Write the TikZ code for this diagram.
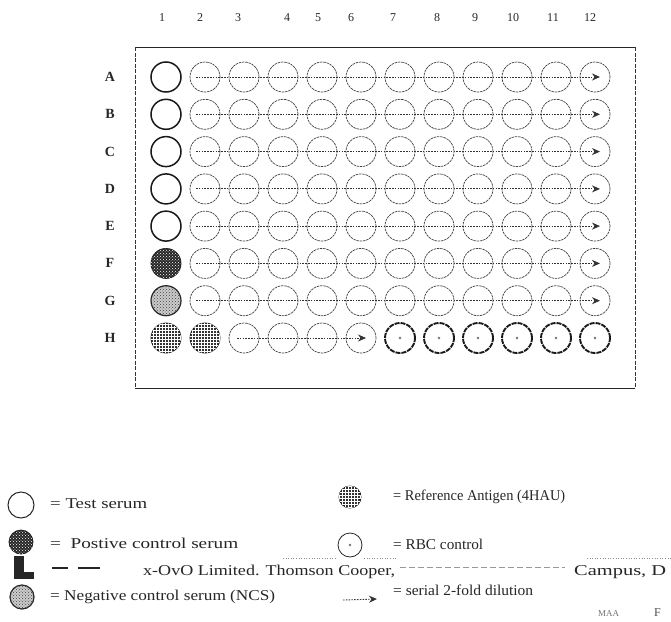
\documentclass[tikz,border=0pt]{standalone}
\usepackage{graphicx}
\usepackage{fontspec}
\setmainfont{Liberation Serif}
\usetikzlibrary{arrows.meta,patterns}
\newcommand{\fitw}[2]{\resizebox{#1}{\height}{#2}}
\begin{document}
\begin{tikzpicture}[x=1pt,y=-1pt,
  wl/.style={circle, minimum size=30pt, inner sep=0pt},
  thinwell/.style={wl, draw=black!75, line width=0.7pt, dash pattern=on 2.5pt off 0.8pt},
  testwell/.style={wl, draw=black!90, line width=1.5pt},
  poswell/.style={wl, draw=black!90, fill=black!85, line width=0.8pt, postaction={pattern=crosshatch dots, pattern color=white}},
  refwell/.style={wl, draw=black!90, fill=black!80, line width=0.8pt, postaction={pattern=grid, pattern color=white}},
  negwell/.style={wl, draw=black!85, line width=1.2pt, fill=black!20, postaction={pattern=crosshatch dots, pattern color=black!75}},
  rbcwell/.style={wl, draw=black!90, line width=1.9pt, dash pattern=on 5pt off 1pt},
  dil/.style={black!80, line width=0.9pt, dash pattern=on 1.5pt off 1.3pt, -{Stealth[length=8pt,width=7pt]}},
  lbl/.style={font=\fontsize{15}{17}\selectfont, text=black!85, inner sep=0pt, anchor=west},
  collbl/.style={font=\fontsize{12}{13}\selectfont, text=black!85, inner sep=0pt},
  rowlbl/.style={font=\fontsize{14}{15}\selectfont\bfseries, text=black!85, inner sep=0pt},
  artdot/.style={black!45, line width=0.6pt, dotted}
]
\useasboundingbox (0,0) rectangle (671,621);

% plate frame
\draw[black!85, line width=0.8pt] (135,47) -- (635,47);
\draw[black!85, line width=0.8pt] (135,388) -- (635,388);
\draw[black!80, line width=0.7pt, dash pattern=on 4pt off 1.5pt] (135,47) -- (135,388);
\draw[black!80, line width=0.7pt, dash pattern=on 4pt off 1.5pt] (635,47) -- (635,388);

% column labels
\foreach \c/\xx in {1/162,2/200,3/238,4/287,5/318,6/351,7/393,8/437,9/475,10/513,11/553,12/590}
  \node[collbl] (cl-\c) at (\xx,18) {\c};

% row labels
\foreach \r/\yy in {A/77,B/114.3,C/151.6,D/188.9,E/226.1,F/263.4,G/300.7,H/338}
  \node[rowlbl] (rl-\r) at (110,\yy) {\r};

% column 1 wells
\foreach \r/\yy in {A/77,B/114.3,C/151.6,D/188.9,E/226.1}
  \node[testwell] (w-\r-1) at (166,\yy) {};
\node[poswell] (w-F-1) at (166,263.4) {};
\node[negwell] (w-G-1) at (166,300.7) {};
\node[refwell] (w-H-1) at (166,338) {};
\node[refwell] (w-H-2) at (205,338) {};

% dilution wells rows A-G
\foreach \r/\yy in {A/77,B/114.3,C/151.6,D/188.9,E/226.1,F/263.4,G/300.7}{
  \foreach \c in {2,...,12}
    \node[thinwell] (w-\r-\c) at ({127+39*\c},\yy) {};
  \draw[dil] ([xshift=-9pt]w-\r-2.center) -- ([xshift=5pt]w-\r-12.center);
}
% row H
\foreach \c in {3,...,6}
  \node[thinwell] (w-H-\c) at ({127+39*\c},338) {};
\draw[dil] ([xshift=-7pt]w-H-3.center) -- ([xshift=5pt]w-H-6.center);
\foreach \c in {7,...,12}{
  \node[rbcwell] (w-H-\c) at ({127+39*\c},338) {};
  \fill[black!55] (w-H-\c.center) circle (1.3pt);
}

% ---------- legend ----------
\node[wl, draw=black!85, line width=1pt, minimum size=26pt] (lg-test) at (21,505) {};
\node[lbl] (tx-test) at (50,504) {\fitw{97pt}{= Test serum}};

\node[poswell, minimum size=24pt] (lg-pos) at (21,542) {};
\fill[black!85] (14,556) rectangle (24,579);
\fill[black!85] (24,572) rectangle (34,579);
\node[lbl] (tx-pos) at (50,543) {\fitw{188pt}{=\ \ Postive control serum}};

\draw[black!85, line width=1.2pt] (52,568) -- (68,568);
\draw[black!85, line width=1.2pt] (78,568) -- (100,568);
\node[lbl] (tx-xovo) at (143,572) {\fitw{252pt}{x-OvO Limited. Thomson Cooper,}};
\draw[black!40, line width=1pt, dash pattern=on 6pt off 3pt] (400,567) -- (565,567);
\node[lbl] (tx-campus) at (574,572) {\fitw{92pt}{Campus, D}};

\node[negwell, minimum size=24pt] (lg-neg) at (22,597) {};
\node[lbl] (tx-neg) at (50,597) {\fitw{225pt}{= Negative control serum (NCS)}};

\node[refwell, minimum size=22pt] (lg-ref) at (350,497) {};
\node[lbl] (tx-ref) at (393,497) {\fitw{172pt}{= Reference Antigen (4HAU)}};

\node[wl, draw=black!85, line width=0.8pt, minimum size=24pt] (lg-rbc) at (350,545) {};
\fill[black!55] (lg-rbc.center) circle (1.3pt);
\node[lbl] (tx-rbc) at (393,544) {\fitw{90pt}{= RBC control}};

\draw[artdot] (283,558) -- (336,558);
\draw[artdot] (364,558) -- (397,558);
\draw[artdot] (587,558) -- (671,558);

\coordinate (ser-a) at (343,600);
\coordinate (ser-b) at (377,599);
\draw[dil] (ser-a) -- (ser-b);
\node[lbl] (tx-ser) at (393,590) {\fitw{140pt}{= serial 2-fold dilution}};

\node[lbl, font=\fontsize{9}{10}\selectfont, text=black!55] (tx-maa) at (598,614) {MAA};
\node[lbl, font=\fontsize{12}{12}\selectfont, text=black!70] (tx-f) at (654,613) {F};
\end{tikzpicture}
\end{document}
